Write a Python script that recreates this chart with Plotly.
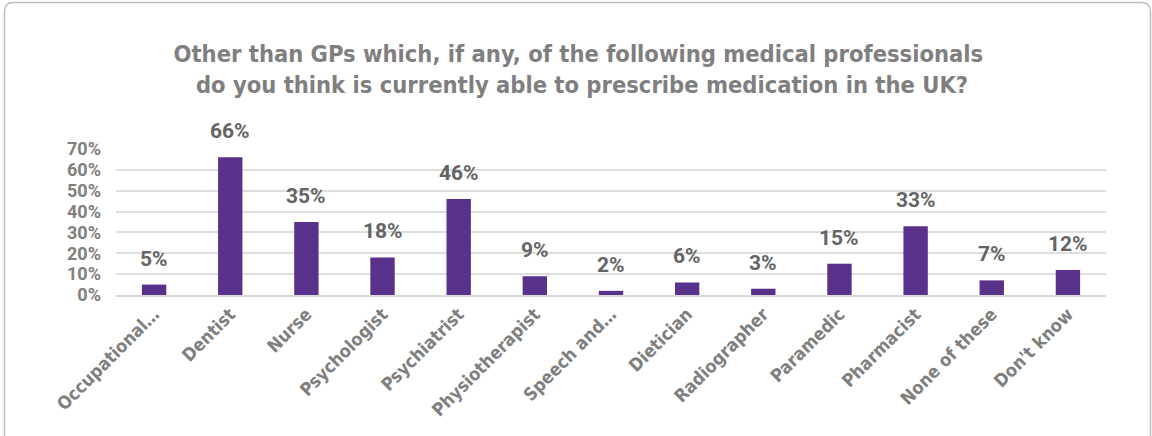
import plotly.graph_objects as go

# Survey responses: medical professionals thought able to prescribe medication
categories = [
    "Occupational…", "Dentist", "Nurse", "Psychologist", "Psychiatrist",
    "Physiotherapist", "Speech and…", "Dietician", "Radiographer",
    "Paramedic", "Pharmacist", "None of these", "Don't know",
]
percent = [5, 66, 35, 18, 46, 9, 2, 6, 3, 15, 33, 7, 12]
y_ticks = [0, 10, 20, 30, 40, 50, 60, 70]
y_tick_labels = [f"{t}%" for t in y_ticks]

W, H = 1152, 436
ML, MR, MT, MB = 116, 46, 149, 141
PW, PH = W - ML - MR, H - MT - MB

BAR = "#58318A"
GREY = "#7F7F7F"
LABEL_GREY = "#646464"
NARROW = "Liberation Sans Narrow, DejaVu Sans Condensed, sans-serif"


def px_x(x):
    return (x - ML) / PW


def px_y(y):
    return (H - MB - y) / PH


fig = go.Figure(
    go.Bar(
        x=categories,
        y=percent,
        marker=dict(color=BAR, line=dict(width=0)),
        width=0.32,
        hoverinfo="x+y",
    )
)

# value labels above each bar
for c, v in zip(categories, percent):
    fig.add_annotation(
        x=c, y=v, text=f"{v}%", showarrow=False,
        yanchor="bottom", yshift=12,
        font=dict(family="Roboto, Arial, sans-serif", size=21, color=LABEL_GREY, weight="bold"),
    )

# rounded frame around the chart
x0, x1, y0, y1, r = 4.5, 1150.5, 2.5, 445, 9
path = (
    f"M {px_x(x0)} {px_y(y0 + r)} "
    f"Q {px_x(x0)} {px_y(y0)} {px_x(x0 + r)} {px_y(y0)} "
    f"L {px_x(x1 - r)} {px_y(y0)} "
    f"Q {px_x(x1)} {px_y(y0)} {px_x(x1)} {px_y(y0 + r)} "
    f"L {px_x(x1)} {px_y(y1)} "
    f"L {px_x(x0)} {px_y(y1)} Z"
)
fig.add_shape(type="path", xref="paper", yref="paper", path=path,
              line=dict(color="#BDBDBD", width=1.5), layer="below")

fig.update_layout(
    width=W, height=H,
    margin=dict(l=ML, r=MR, t=MT, b=MB),
    paper_bgcolor="white", plot_bgcolor="white",
    showlegend=False,
    title=dict(
        text="Other than GPs which, if any, of the following medical professionals<br> do you think is currently able to prescribe medication in the UK?",
        x=0.502, xref="container", xanchor="center",
        y=1 - 62 / H, yref="container", yanchor="top",
        font=dict(family=NARROW, size=23.5, color=GREY, weight="bold"),
    ),
    xaxis=dict(
        tickangle=-45,
        tickfont=dict(family=NARROW, size=18, color=GREY, weight="bold"),
        showgrid=False, showline=True, linecolor="#D9D9D9", linewidth=1.5,
        ticks="", ticklen=0,
    ),
    yaxis=dict(
        range=[0, 70],
        tickvals=y_ticks, ticktext=y_tick_labels,
        tickfont=dict(family="Roboto, Arial, sans-serif", size=18, color=GREY, weight="bold"),
        showgrid=True, gridcolor="#DEDEDE", gridwidth=1.5,
        zeroline=False, showline=False, ticks="",
        ticklabelstandoff=14,
    ),
)

fig.write_html("out.html")
